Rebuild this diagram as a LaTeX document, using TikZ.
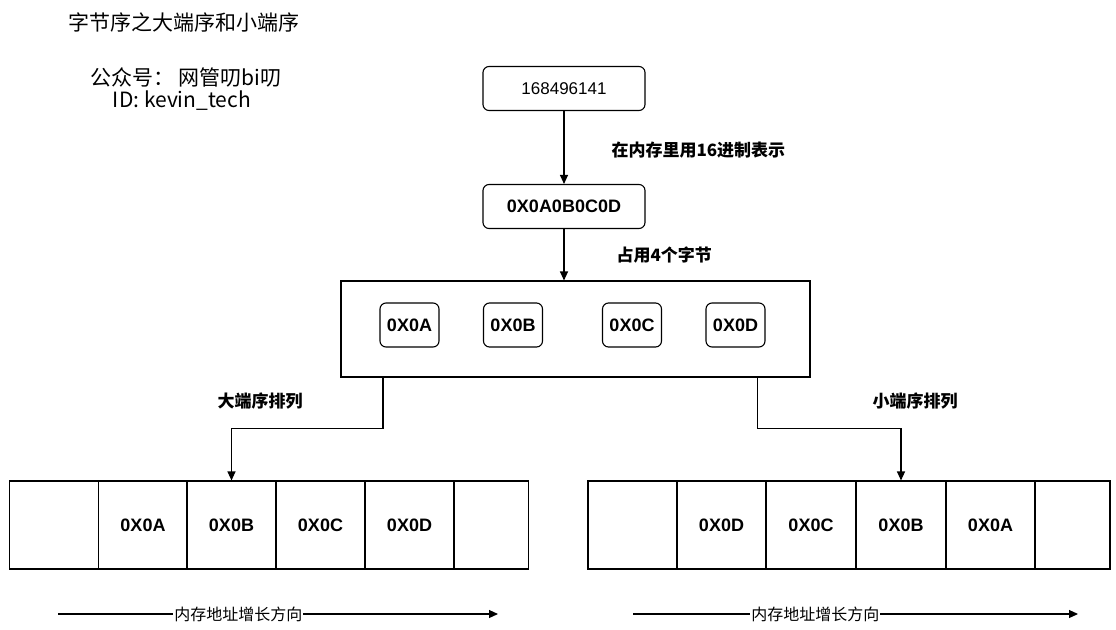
\documentclass[tikz,border=0pt]{standalone}
\usepackage{fontspec}
\setmainfont{Liberation Sans}
\newfontfamily\cjk{Noto Sans CJK SC}
\usetikzlibrary{positioning}
\usetikzlibrary{arrows.meta}
\tikzset{
    boxr/.style = {rectangle, rounded corners=6pt, draw=black, line width=1.1pt, minimum width=162pt, minimum height=44pt, align=center, font=\fontsize{17}{20}\selectfont},
    boxb/.style = {boxr, font=\fontsize{18}{21}\selectfont\bfseries},
    bytebox/.style = {rectangle, rounded corners=6pt, draw=black, line width=1.1pt, minimum width=59pt, minimum height=44pt, font=\fontsize{18}{21}\selectfont\bfseries},
    outerbox/.style = {rectangle, draw=black, line width=1.1pt, minimum width=469pt, minimum height=96pt},
    memcell/.style = {rectangle, draw=black, line width=1.1pt, minimum width=89pt, minimum height=88pt, font=\fontsize{18}{21}\selectfont\bfseries},
    memend/.style = {memcell, minimum width=75pt},
    lbl/.style = {font=\cjk\fontsize{17}{20}\selectfont\bfseries},
    note/.style = {font=\cjk\fontsize{21}{25}\selectfont},
    addr/.style = {font=\cjk\fontsize{16}{18}\selectfont, fill=white, inner sep=1pt},
    edgea/.style = {-{Triangle[length=9pt,width=8pt]}, line width=1.1pt, black}, % arrow
}

\begin{document}
\begin{tikzpicture}[x=1pt, y=-1pt]
\useasboundingbox (0,0) rectangle (1116,629);
\node[note, anchor=west] at (65, 22) (title) {字节序之大端序和小端序};
\node[note] at (186, 77) (wx) {公众号：\ 网管叨bi叨};
\node[note] at (182, 101) (id) {ID: kevin\_tech};
%
\node[boxr] at (564, 88.5) (num) {168496141};
\node[boxb] at (564, 206.5) (hex) {0X0A0B0C0D};
\node[outerbox] at (575.5, 329) (bytes) {};
\node[bytebox] at (409.5, 325) (b1) {0X0A};
\node[bytebox] at (513, 325) (b2) {0X0B};
\node[bytebox] at (632, 325) (b3) {0X0C};
\node[bytebox] at (735.5, 325) (b4) {0X0D};
%
\node[lbl, anchor=west] at (608, 150) (tohex) {在内存里用16进制表示};
\node[lbl, anchor=west] at (613, 255) (fourb) {占用4个字节};
\node[lbl] at (260, 401) (bigl) {大端序排列};
\node[lbl] at (915, 401) (littlel) {小端序排列};
%
\node[memcell] at (54, 525) (l0) {};
\node[memcell] at (143, 525) (l1) {0X0A};
\node[memcell] at (231.5, 525) (l2) {0X0B};
\node[memcell] at (320.5, 525) (l3) {0X0C};
\node[memcell] at (409.5, 525) (l4) {0X0D};
\node[memend] at (491, 525) (l5) {};
\node[memcell] at (632.5, 525) (r0) {};
\node[memcell] at (721.5, 525) (r1) {0X0D};
\node[memcell] at (811, 525) (r2) {0X0C};
\node[memcell] at (901, 525) (r3) {0X0B};
\node[memcell] at (990.5, 525) (r4) {0X0A};
\node[memend] at (1072.5, 525) (r5) {};
%
\coordinate (la0) at (58, 614);
\coordinate (la1) at (498, 614);
\coordinate (ra0) at (633, 614);
\coordinate (ra1) at (1078, 614);
%
\draw[edgea] (num) -- (hex);
\draw[edgea] (hex) -- (hex.south |- bytes.north);
\draw[edgea] ([xshift=42.5pt]bytes.south west) -- ++(0, 51) -| (l2.north);
\draw[edgea] ([xshift=-53pt]bytes.south east) -- ++(0, 51) -| (r3.north);
\draw[edgea] (la0) -- (la1) node[addr, pos=0.41] (laddr) {内存地址增长方向};
\draw[edgea] (ra0) -- (ra1) node[addr, pos=0.41] (raddr) {内存地址增长方向};
\end{tikzpicture}
\end{document}
